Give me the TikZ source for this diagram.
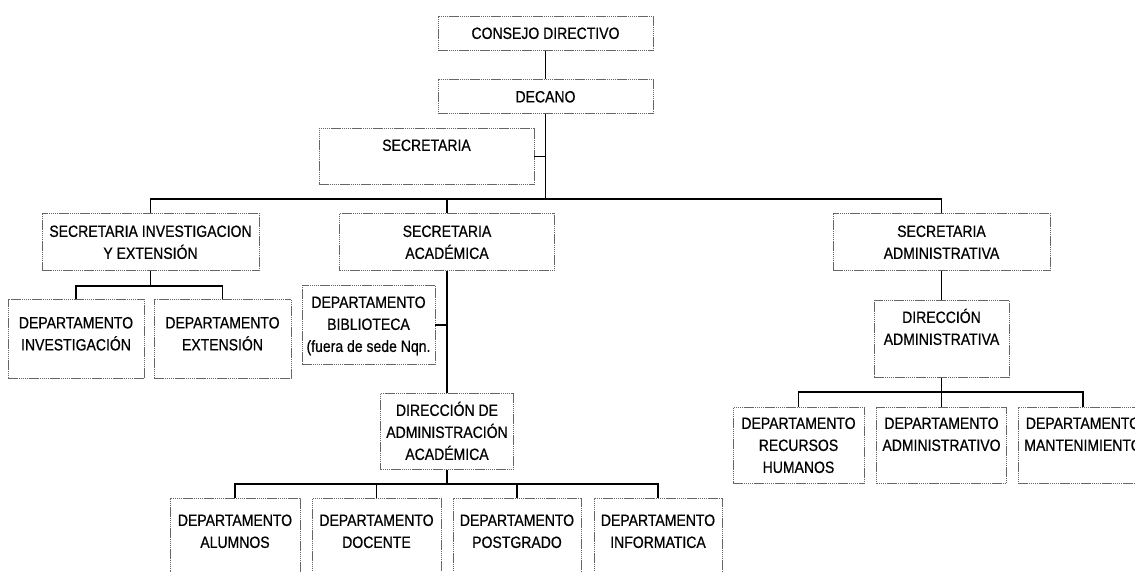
\documentclass[tikz,border=0pt]{standalone}
\usepackage{fontspec}
\setmainfont{Liberation Sans}[FakeStretch=0.86,FakeBold=0.6]
\usetikzlibrary{calc}

\newcommand{\rows}[1]{\begin{tabular}[t]{@{}c@{}}#1\end{tabular}}

\tikzset{
  box/.style n args={3}{draw=black!60, dash pattern=on 1.5pt off 0.6pt, line width=0.8pt,
    anchor=north, inner xsep=0pt, inner ysep=0pt, minimum width=#1pt,
    text height=#2pt, text depth=#3pt, font=\fontsize{16.3}{22}\selectfont},
  link/.style={draw=black, line width=1.3pt}
}

\begin{document}
\begin{tikzpicture}[x=1pt,y=-1pt]
  \useasboundingbox (0,0) rectangle (1135,572);
  \clip (0,0) rectangle (1135,572);
  % top
  \node[box={215}{22.5}{11.5}] (consejo) at (545.5,16) {\rows{CONSEJO DIRECTIVO}};
  \node[box={215}{23}{11}] (decano) at (545.5,79) {\rows{DECANO}};
  \node[box={215}{22.5}{33.5}] (secretaria) at (426.5,128) {\rows{SECRETARIA}};
  % secretarias
  \node[box={217}{23.5}{33.5}] (secinv) at (150.5,213) {\rows{SECRETARIA INVESTIGACION\\Y EXTENSIÓN}};
  \node[box={215}{23.5}{33.5}] (secacad) at (447,213) {\rows{SECRETARIA\\ACADÉMICA}};
  \node[box={217}{23.5}{33.5}] (secadm) at (941.5,213) {\rows{SECRETARIA\\ADMINISTRATIVA}};
  % investigacion
  \node[box={136}{29}{50}] (deptinv) at (76,299) {\rows{DEPARTAMENTO\\INVESTIGACIÓN}};
  \node[box={137}{29}{50}] (deptext) at (222.5,299) {\rows{DEPARTAMENTO\\EXTENSIÓN}};
  % academica
  \node[box={133}{22.5}{56.5}] (biblio) at (368.5,285) {\rows{DEPARTAMENTO\\BIBLIOTECA\\(fuera de sede Nqn.}};
  \node[box={133}{22.5}{53.5}] (diracad) at (447,393) {\rows{DIRECCIÓN DE\\ADMINISTRACIÓN\\ACADÉMICA}};
  \node[box={130}{27.5}{52.5}] (alumnos) at (235,498) {\rows{DEPARTAMENTO\\ALUMNOS}};
  \node[box={129}{27.5}{52.5}] (docente) at (376.5,498) {\rows{DEPARTAMENTO\\DOCENTE}};
  \node[box={128}{27.5}{52.5}] (postgrado) at (517,498) {\rows{DEPARTAMENTO\\POSTGRADO}};
  \node[box={128}{27.5}{52.5}] (informatica) at (658,498) {\rows{DEPARTAMENTO\\INFORMATICA}};
  % administrativa
  \node[box={135}{22.5}{54.5}] (diradm) at (941.5,300) {\rows{DIRECCIÓN\\ADMINISTRATIVA}};
  \node[box={131}{21.5}{54.5}] (rrhh) at (798.5,407) {\rows{DEPARTAMENTO\\RECURSOS\\HUMANOS}};
  \node[box={130}{21.5}{54.5}] (admtvo) at (941.5,407) {\rows{DEPARTAMENTO\\ADMINISTRATIVO}};
  \node[box={130}{21.5}{54.5}] (mant) at (1083,407) {\rows{DEPARTAMENTO\\MANTENIMIENTO}};

  \coordinate (topbar) at (545.5,199);
  \coordinate (invbar) at (150.5,286);
  \coordinate (acadbar) at (447,484);
  \coordinate (admbar) at (941.5,392);

  \draw[link] (consejo) -- (decano);
  \draw[link] (decano.south) -- (topbar);
  \draw[link] (secretaria.east) -- (secretaria.east -| topbar);
  \draw[link] (secinv.north) |- (topbar) -| (secadm.north);
  \draw[link] (secacad.north) -- (secacad.north |- topbar);
%  \draw[link] (secinv.south) |- (invbar);
  \draw[link] (secinv.south) -- (invbar);
  \draw[link] (deptinv.north) |- (invbar) -| (deptext.north);
  \draw[link] (secacad.south) -- (diracad.north);
  \draw[link] (biblio.east) -- (biblio.east -| secacad.south);
  \draw[link] (diracad.south) -- (acadbar);
  \draw[link] (alumnos.north) |- (acadbar) -| (informatica.north);
  \foreach \n in {docente,postgrado}
    \draw[link] (\n.north) -- (\n.north |- acadbar);
  \draw[link] (secadm.south) -- (diradm.north);
  \draw[link] (diradm.south) -- (admtvo.north);
  \draw[link] (rrhh.north) |- (admbar) -| (mant.north);
\end{tikzpicture}
\end{document}
